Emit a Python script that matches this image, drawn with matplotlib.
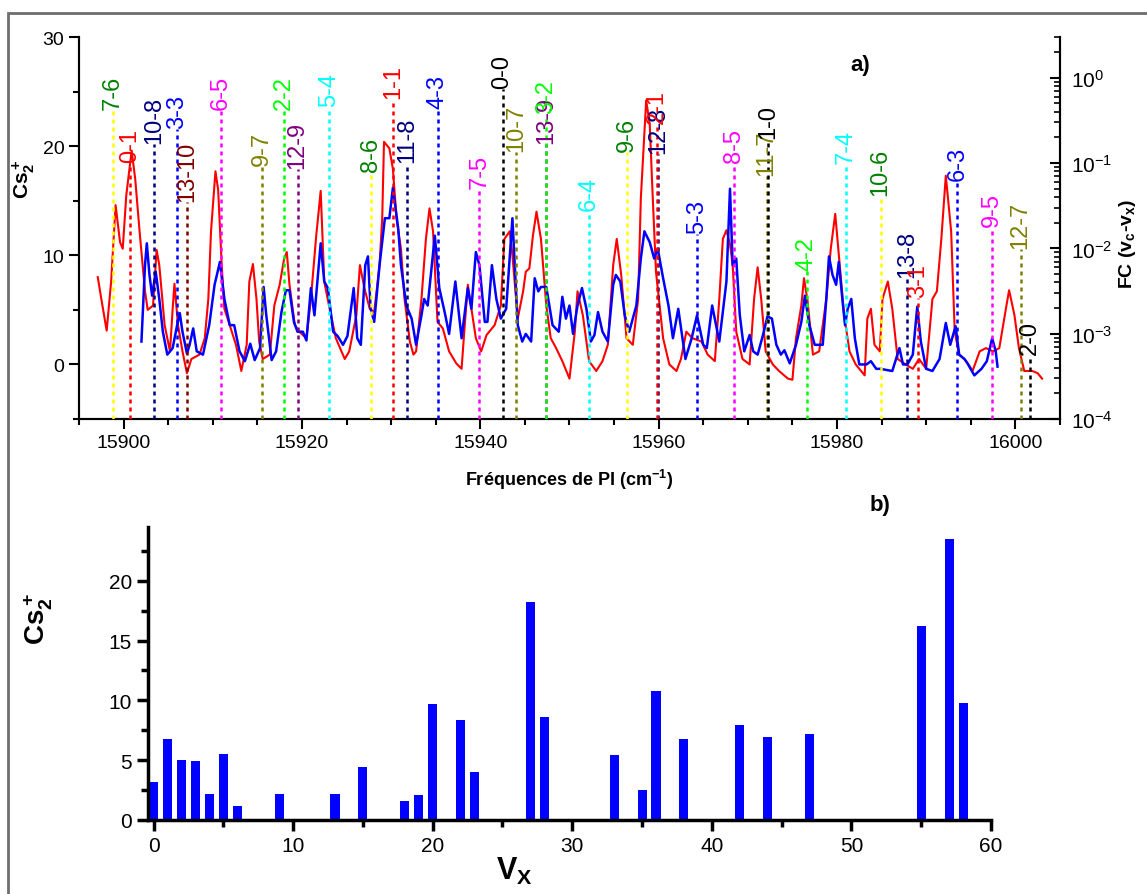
import matplotlib
matplotlib.use("Agg")
import matplotlib.pyplot as plt
from matplotlib.ticker import MultipleLocator, LogLocator, LogFormatterMathtext, NullFormatter
from matplotlib.patches import Rectangle

plt.rcParams['font.family'] = ['Liberation Sans', 'DejaVu Sans']
plt.rcParams['mathtext.default'] = 'regular'

# ---- panel a) : photo-ionisation spectrum (red) and simulation (blue)
red_freq = [15897.1, 15897.5, 15898.1, 15898.6, 15899.1, 15899.6, 15899.9, 15900.3, 15900.9, 15901.3,
            15901.8, 15902.4, 15902.7, 15903.3, 15903.7, 15904.0, 15904.6, 15905.2, 15905.5, 15905.7,
            15906.1, 15906.6, 15907.1, 15907.6, 15908.5, 15909.1, 15909.5, 15909.8, 15910.3, 15910.6,
            15911.0, 15911.3, 15911.9, 15912.6, 15913.2, 15913.8, 15914.1, 15914.5, 15914.9, 15915.2,
            15915.6, 15916.4, 15916.9, 15917.5, 15918.0, 15918.3, 15918.6, 15919.2, 15919.7, 15920.5,
            15921.0, 15921.6, 15922.1, 15922.5, 15923.1, 15923.8, 15924.8, 15925.3, 15926.1, 15926.5,
            15927.0, 15927.6, 15928.1, 15928.7, 15929.0, 15929.2, 15929.8, 15930.2, 15930.6, 15931.1,
            15931.5, 15932.1, 15932.5, 15932.8, 15933.4, 15933.9, 15934.3, 15934.7, 15935.2, 15935.8,
            15936.5, 15937.3, 15937.9, 15938.2, 15938.6, 15939.0, 15939.5, 15940.1, 15940.7, 15941.6,
            15942.3, 15942.7, 15943.3, 15943.6, 15944.2, 15944.8, 15945.1, 15945.5, 15945.9, 15946.3,
            15946.8, 15947.4, 15947.9, 15948.5, 15949.2, 15950.0, 15950.6, 15950.9, 15951.5, 15952.2,
            15953.0, 15953.7, 15954.3, 15954.9, 15955.3, 15955.8, 15956.4, 15957.1, 15957.7, 15958.0,
            15958.6, 15959.0, 15959.3, 15959.7, 15960.5, 15961.2, 15962.0, 15962.5, 15963.1, 15963.8,
            15964.8, 15965.5, 15966.3, 15966.8, 15967.2, 15967.6, 15968.0, 15968.3, 15968.7, 15969.4,
            15970.2, 15970.7, 15971.1, 15971.5, 15972.0, 15972.8, 15973.5, 15974.5, 15975.0, 15975.4,
            15976.0, 15976.3, 15976.7, 15977.3, 15978.0, 15978.8, 15979.3, 15979.8, 15980.3, 15980.8,
            15981.4, 15982.1, 15983.1, 15983.4, 15983.8, 15984.2, 15984.8, 15985.1, 15985.7, 15986.2,
            15986.8, 15987.7, 15988.5, 15989.2, 15990.0, 15990.7, 15991.2, 15991.7, 15992.2, 15992.8,
            15993.2, 15993.7, 15994.5, 15995.2, 15996.0, 15996.7, 15997.5, 15998.2, 15999.0, 15999.3,
            15999.9, 16000.4, 16001.0, 16001.9, 16002.5, 16003.0]
red_signal = [8.0, 6.0, 3.1, 7.6, 14.6, 11.2, 10.6, 15.5, 19.6, 17.0,
              12.1, 6.7, 5.0, 5.4, 10.5, 9.1, 3.6, 1.2, 5.1, 7.4,
              3.6, 1.2, -0.8, 0.5, 0.9, 2.4, 6.0, 12.2, 17.7, 16.0,
              9.1, 5.1, 3.6, 1.8, -0.6, 1.8, 7.6, 9.2, 6.0, 2.1,
              0.5, 0.9, 5.4, 7.3, 9.7, 10.3, 7.3, 3.6, 3.0, 2.4,
              6.0, 11.8, 15.9, 7.6, 5.1, 2.4, 0.5, 1.2, 4.5, 9.1,
              7.0, 5.1, 4.8, 9.1, 13.4, 20.4, 19.8, 17.9, 13.4, 10.6,
              6.0, 2.1, 0.9, 1.2, 6.0, 11.5, 14.3, 12.2, 3.9, 3.3,
              1.2, 0.1, -0.4, 3.0, 7.3, 5.1, 2.4, 1.2, 2.7, 3.6,
              5.4, 11.5, 12.2, 10.0, 4.2, 6.7, 8.5, 8.8, 11.8, 14.0,
              11.5, 5.4, 2.4, 1.5, 0.3, -1.3, 3.0, 6.7, 4.5, 0.3,
              -0.6, 0.3, 1.8, 9.1, 11.5, 8.2, 2.4, 1.8, 6.0, 15.2,
              24.2, 22.0, 16.0, 8.5, 2.4, 0.0, -0.6, 0.5, 3.0, 2.4,
              2.1, 0.9, 0.3, 6.0, 11.5, 12.3, 11.0, 9.1, 3.0, 0.5,
              0.0, 6.0, 8.9, 6.0, 1.2, 0.0, -0.6, -1.3, -1.4, 2.4,
              5.4, 7.9, 5.8, 0.9, 1.2, 6.0, 10.6, 13.8, 9.1, 4.5,
              1.2, 0.0, -1.0, 4.2, 5.1, 1.8, 1.2, 6.0, 7.6, 5.1,
              0.5, 0.0, -0.4, 0.5, -0.4, 6.0, 6.7, 11.5, 17.3, 12.2,
              3.0, 0.9, 0.3, -0.6, 1.2, 1.5, 1.2, 1.5, 5.4, 6.8,
              4.5, 1.5, -0.6, -0.6, -0.8, -1.3]

blue_freq = [15902.0, 15902.4, 15902.6, 15902.9, 15903.2, 15903.6, 15904.0, 15904.4, 15904.9, 15905.5,
             15906.0, 15906.3, 15906.6, 15907.1, 15907.4, 15907.8, 15908.2, 15908.9, 15909.6, 15910.2,
             15910.8, 15911.3, 15911.9, 15912.4, 15913.0, 15913.6, 15914.2, 15914.7, 15915.3, 15915.7,
             15916.0, 15916.6, 15917.1, 15917.7, 15918.2, 15918.6, 15919.1, 15919.5, 15920.1, 15920.5,
             15921.0, 15921.4, 15922.1, 15922.5, 15922.9, 15923.5, 15924.0, 15924.6, 15925.1, 15925.8,
             15926.2, 15926.6, 15927.1, 15927.4, 15927.7, 15928.1, 15928.7, 15929.3, 15929.8, 15930.2,
             15930.8, 15931.1, 15931.7, 15932.3, 15932.8, 15933.4, 15933.7, 15934.1, 15934.9, 15935.4,
             15936.0, 15936.5, 15937.2, 15937.9, 15938.6, 15939.0, 15939.5, 15939.9, 15940.5, 15940.8,
             15941.3, 15941.8, 15942.3, 15942.9, 15943.6, 15944.2, 15944.7, 15945.1, 15945.7, 15946.1,
             15946.5, 15946.8, 15947.4, 15948.1, 15948.8, 15949.2, 15949.6, 15950.0, 15950.4, 15950.9,
             15951.4, 15951.9, 15952.4, 15952.8, 15953.2, 15953.7, 15954.3, 15954.9, 15955.2, 15955.7,
             15956.2, 15956.7, 15957.5, 15958.0, 15958.4, 15959.0, 15959.5, 15959.9, 15960.5, 15961.1,
             15961.6, 15962.2, 15963.0, 15963.7, 15964.3, 15965.0, 15965.4, 15966.0, 15966.8, 15967.6,
             15968.0, 15968.3, 15968.7, 15969.1, 15969.6, 15970.2, 15970.6, 15971.1, 15971.7, 15972.2,
             15972.7, 15973.2, 15973.7, 15974.1, 15974.7, 15975.4, 15976.0, 15976.4, 15976.9, 15977.5,
             15978.4, 15978.8, 15979.1, 15979.5, 15979.9, 15980.2, 15980.6, 15980.9, 15981.2, 15981.6,
             15982.0, 15982.5, 15983.3, 15983.8, 15984.4, 15984.9, 15985.5, 15986.2, 15987.0, 15987.4,
             15987.9, 15988.5, 15989.0, 15989.4, 15990.0, 15990.7, 15991.5, 15992.2, 15992.7, 15993.3,
             15993.7, 15994.3, 15994.7, 15995.4, 15996.2, 15996.8, 15997.4, 15997.8, 15998.0]
blue_signal = [2.1, 9.1, 11.1, 8.2, 6.3, 8.5, 6.0, 3.0, 0.9, 1.5,
               3.6, 4.7, 3.0, 1.0, 1.8, 3.3, 1.2, 0.9, 3.6, 7.3,
               9.4, 6.0, 3.6, 3.6, 1.2, 0.3, 1.9, 0.4, 1.5, 7.1,
               4.5, 0.4, 1.2, 4.8, 6.8, 6.8, 3.9, 3.0, 3.0, 2.2,
               7.0, 4.5, 11.1, 7.6, 7.0, 3.0, 2.6, 1.8, 2.6, 7.0,
               2.4, 1.8, 9.1, 9.9, 5.1, 3.9, 9.1, 13.4, 13.4, 16.2,
               12.4, 9.1, 5.4, 4.2, 1.8, 4.5, 6.0, 5.4, 11.8, 7.0,
               4.8, 2.8, 7.6, 2.4, 7.0, 5.1, 10.3, 9.1, 3.9, 3.9,
               9.1, 6.0, 4.2, 5.1, 13.4, 3.6, 2.1, 2.8, 2.1, 7.9,
               6.7, 7.1, 7.1, 3.6, 3.0, 6.2, 4.2, 5.4, 2.8, 5.4,
               7.0, 5.1, 2.1, 2.7, 4.8, 3.0, 2.1, 7.3, 8.2, 7.6,
               4.5, 3.0, 5.4, 9.7, 12.2, 11.2, 9.7, 10.6, 7.9, 5.4,
               2.4, 5.1, 0.5, 2.4, 4.5, 1.8, 1.5, 5.4, 2.1, 7.6,
               16.1, 9.1, 9.7, 4.5, 1.2, 2.7, 1.2, 0.9, 2.7, 4.4,
               4.2, 1.8, 0.9, 1.3, 0.1, 1.8, 3.9, 6.3, 3.6, 1.8,
               1.8, 6.0, 9.9, 8.2, 7.3, 9.4, 6.0, 3.6, 5.1, 6.0,
               2.4, 0.0, 0.0, 0.3, -0.4, -0.4, -0.5, -0.6, 1.5, 0.0,
               0.0, 0.9, 5.3, 2.1, -0.4, -0.6, 0.5, 3.8, 1.8, 3.5,
               0.9, 0.5, 0.0, -1.0, -0.4, 0.3, 2.4, 1.2, -0.2]

# Franck-Condon sticks: band label (v_c-v_x), position (cm-1), FC factor
band_labels = ['7-6', '0-1', '10-8', '3-3', '13-10', '6-5', '9-7', '2-2', '12-9', '5-4',
               '8-6', '1-1', '11-8', '4-3', '7-5', '0-0', '10-7', '13-9', '3-2', '6-4',
               '9-6', '12-8', '2-1', '5-3', '8-5', '11-7', '1-0', '4-2', '7-4', '10-6',
               '13-8', '3-1', '6-3', '9-5', '12-7', '2-0']
band_pos = [15898.8, 15900.7, 15903.4, 15906.0, 15907.1, 15910.9, 15915.5, 15918.0, 15919.5, 15923.0,
            15927.7, 15930.2, 15931.8, 15935.2, 15939.9, 15942.5, 15944.0, 15947.4, 15947.4, 15952.2,
            15956.4, 15959.9, 15959.8, 15964.3, 15968.5, 15972.1, 15972.3, 15976.6, 15981.0, 15984.9,
            15987.9, 15989.1, 15993.5, 15997.4, 16000.6, 16001.6]
band_fc = [0.41, 0.10, 0.166, 0.25, 0.035, 0.41, 0.092, 0.41, 0.085, 0.45,
           0.078, 0.56, 0.10, 0.43, 0.049, 0.73, 0.134, 0.166, 0.37, 0.027,
           0.134, 0.127, 0.285, 0.0147, 0.10, 0.070, 0.19, 0.0054, 0.097, 0.041,
           0.0044, 0.0026, 0.061, 0.0178, 0.0098, 0.00055]

# ---- panel b) : intensity versus v_x
vx_levels = [0, 1, 2, 3, 4, 5, 6, 9, 13, 15, 18, 19, 20, 22, 23, 27, 28, 33, 35, 36,
             38, 42, 44, 47, 55, 57, 58]
vx_heights = [3.2, 6.8, 5.0, 4.9, 2.2, 5.5, 1.2, 2.2, 2.2, 4.4, 1.6, 2.1, 9.7, 8.4, 4.0,
              18.2, 8.6, 5.4, 2.5, 10.8, 6.8, 7.9, 6.9, 7.2, 16.2, 23.5, 9.8]

# colours by lower level v_x
line_colours = {0: 'black', 1: 'red', 2: '#00FF00', 3: 'blue', 4: 'cyan', 5: 'magenta',
                6: 'yellow', 7: '#808000', 8: '#000080', 9: '#800080', 10: '#800000'}
text_colours = dict(line_colours)
text_colours[6] = '#008000'

fig = plt.figure(figsize=(11.47, 8.95), dpi=100)

# grey frame
fig.add_artist(Rectangle((8 / 1147, -0.01), 1.1, 1 - 14 / 895 + 0.01, transform=fig.transFigure,
                         fill=False, edgecolor='#6e6e6e', linewidth=2))

ax = fig.add_axes([0.0689, 0.5307, 0.8552, 0.4268])
ax.plot(red_freq, red_signal, color='red', lw=1.5, zorder=3)
ax.plot(blue_freq, blue_signal, color='blue', lw=1.8, zorder=4)
ax.set_xlim(15895, 16005)
ax.set_ylim(-5, 30)
ax.spines['top'].set_visible(False)
for s in ax.spines.values():
    s.set_linewidth(1.5)
ax.xaxis.set_major_locator(MultipleLocator(20))
ax.xaxis.set_minor_locator(MultipleLocator(5))
ax.yaxis.set_major_locator(MultipleLocator(10))
ax.yaxis.set_minor_locator(MultipleLocator(5))
ax.tick_params(which='major', direction='out', length=7, width=1.5, labelsize=14)
ax.tick_params(which='minor', direction='out', length=4, width=1.5)
ax.set_xlabel('Fréquences de PI (cm$^{-1}$)', fontsize=13, fontweight='bold', labelpad=12)
ax.set_ylabel('Cs$_2^+$', fontsize=15, fontweight='bold')
ax.yaxis.set_label_coords(-0.043, 0.63)

ax2 = ax.twinx()
ax2.set_yscale('log')
ax2.set_ylim(1e-4, 3)
ax2.spines['top'].set_visible(False)
for s in ax2.spines.values():
    s.set_linewidth(1.5)
ax2.yaxis.set_major_locator(LogLocator(base=10))
ax2.yaxis.set_major_formatter(LogFormatterMathtext())
ax2.yaxis.set_minor_locator(LogLocator(base=10, subs=range(2, 10)))
ax2.yaxis.set_minor_formatter(NullFormatter())
ax2.tick_params(which='major', direction='in', length=7, width=1.5, labelsize=15, pad=8)
ax2.tick_params(which='minor', direction='in', length=4, width=1.2)
ax2.set_ylabel('FC (v$_c$-v$_x$)', fontsize=14, fontweight='bold')
ax2.yaxis.set_label_coords(1.058, 0.46)

for lab, pos, fc in zip(band_labels, band_pos, band_fc):
    vx = int(lab.split('-')[1])
    ax2.vlines(pos, 1e-4, fc, colors=line_colours[vx], linestyles=(0, (1.6, 1.6)), lw=1.8, zorder=5)
    ax2.text(pos, fc * 1.04, lab, rotation=90, ha='center', va='bottom', fontsize=17,
             color=text_colours[vx], clip_on=False, zorder=6)

fig.text(860 / 1147, 1 - 65 / 895, 'a)', fontsize=16, fontweight='bold', ha='center', va='center')

# ---- panel b
axb = fig.add_axes([0.129, 0.0827, 0.735, 0.3274])
axb.bar(vx_levels, vx_heights, width=0.65, color='#0000FF', edgecolor='none')
axb.set_xlim(-0.4, 60)
axb.set_ylim(0, 24.5)
axb.spines['top'].set_visible(False)
axb.spines['right'].set_visible(False)
for s in axb.spines.values():
    s.set_linewidth(2.5)
axb.xaxis.set_major_locator(MultipleLocator(10))
axb.xaxis.set_minor_locator(MultipleLocator(5))
axb.yaxis.set_major_locator(MultipleLocator(5))
axb.yaxis.set_minor_locator(MultipleLocator(2.5))
axb.tick_params(which='major', direction='out', length=8, width=2.5, labelsize=15)
axb.tick_params(which='minor', direction='out', length=5, width=2.5)
axb.set_ylabel('Cs$_2^+$', fontsize=20, fontweight='bold')
axb.yaxis.set_label_coords(-0.11, 0.69)
axb.set_xlabel('V$_X$', fontsize=22, fontweight='bold')
axb.xaxis.set_label_coords(0.435, -0.12)

fig.text(880 / 1147, 1 - 505 / 895, 'b)', fontsize=16, fontweight='bold', ha='center', va='center')

fig.savefig('out.png', dpi=100)
